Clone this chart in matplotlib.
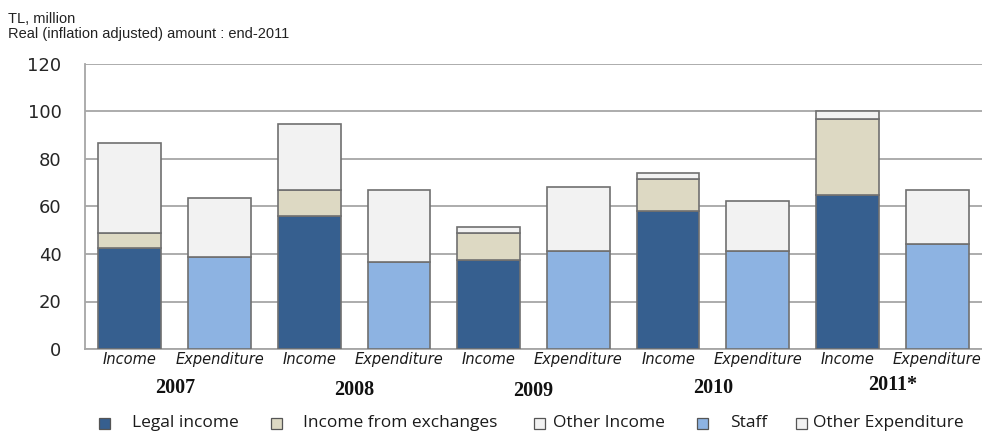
import matplotlib.pyplot as plt
import numpy as np
from matplotlib.patches import Rectangle
from matplotlib.transforms import blended_transform_factory

# data (TL million, real, end-2011 prices)
years = ["2007", "2008", "2009", "2010", "2011*"]
kinds = ["Income", "Expenditure"]
legal_income = [42.7, 56.0, 37.3, 58.1, 64.8]
exchange_income = [6.0, 10.8, 11.4, 13.3, 31.9]
other_income = [38.2, 28.1, 2.7, 2.8, 3.5]
staff = [38.6, 36.5, 41.3, 41.3, 44.1]
other_expenditure = [24.8, 30.5, 26.8, 21.0, 22.9]

legend_labels = ["Legal income", "Income from exchanges", "Other Income",
                 "Staff", "Other Expenditure"]
colors = ["#365f8f", "#ddd9c3", "#f2f2f2", "#8db3e2", "#f2f2f2"]
edge = "#707070"

fig = plt.figure(figsize=(9.82, 4.33), dpi=100)
ax = fig.add_axes([85 / 982, 1 - 349 / 433, 897 / 982, 285 / 433])

n = len(years)
x_inc = np.arange(n) * 2
x_exp = np.arange(n) * 2 + 1
w = 0.7
kw = dict(width=w, edgecolor=edge, linewidth=1.2, zorder=3)

b = np.zeros(n)
for vals, c in zip([legal_income, exchange_income, other_income], colors[:3]):
    ax.bar(x_inc, vals, bottom=b, color=c, **kw)
    b = b + np.array(vals)
ax.bar(x_exp, staff, color=colors[3], **kw)
ax.bar(x_exp, other_expenditure, bottom=staff, color=colors[4], **kw)

ax.set_xlim(-0.5, 2 * n - 0.5)
ax.set_ylim(0, 120)
ax.set_yticks(range(0, 121, 20))
ax.yaxis.grid(True, color="#a6a6a6", linewidth=1.3, zorder=0)
ax.set_axisbelow(True)
for s in ["top", "right"]:
    ax.spines[s].set_visible(False)
for s in ["left", "bottom"]:
    ax.spines[s].set_color("#a6a6a6")
    ax.spines[s].set_linewidth(1.3)
ax.tick_params(axis="y", length=0, pad=17, labelsize=13, labelcolor="#262626")
for t in ax.get_yticklabels():
    t.set_fontfamily("DejaVu Sans")

ax.set_xticks(np.arange(2 * n))
ax.set_xticklabels(kinds * n, fontsize=10.5, style="italic", color="#1a1a1a")
ax.tick_params(axis="x", length=0, pad=2)

# year labels under each pair
tr = blended_transform_factory(ax.transData, ax.transAxes)
year_y = [388, 390, 391, 388, 385]
for i, (yr, py) in enumerate(zip(years, year_y)):
    ax.text(2 * i + 0.5, (349 - py) / 285, yr, transform=tr, ha="center",
            va="center", fontsize=14.5, fontweight="bold",
            family="Liberation Serif", color="#111111")

# header
fig.text(8 / 982, 1 - 19 / 433, "TL, million", fontsize=10.5,
         family="Liberation Sans", va="center", color="#222222")
fig.text(8 / 982, 1 - 34 / 433, "Real (inflation adjusted) amount : end-2011",
         fontsize=10.5, family="Liberation Sans", va="center", color="#222222")

# legend along the bottom
marker_x = [99, 271, 534, 697, 796]
text_x = [132, 303, 553, 730, 813]
ly = 423
for mx, tx, lab, c in zip(marker_x, text_x, legend_labels, colors):
    fig.patches.append(Rectangle((mx / 982, 1 - (ly + 5.5) / 433), 11 / 982, 11 / 433,
                                 transform=fig.transFigure, facecolor=c,
                                 edgecolor="#555555", linewidth=0.9))
    fig.text(tx / 982, 1 - ly / 433, lab, fontsize=12.5, family="Open Sans",
             va="center", ha="left", color="#1a1a1a")

fig.savefig("out.png", dpi=100)
